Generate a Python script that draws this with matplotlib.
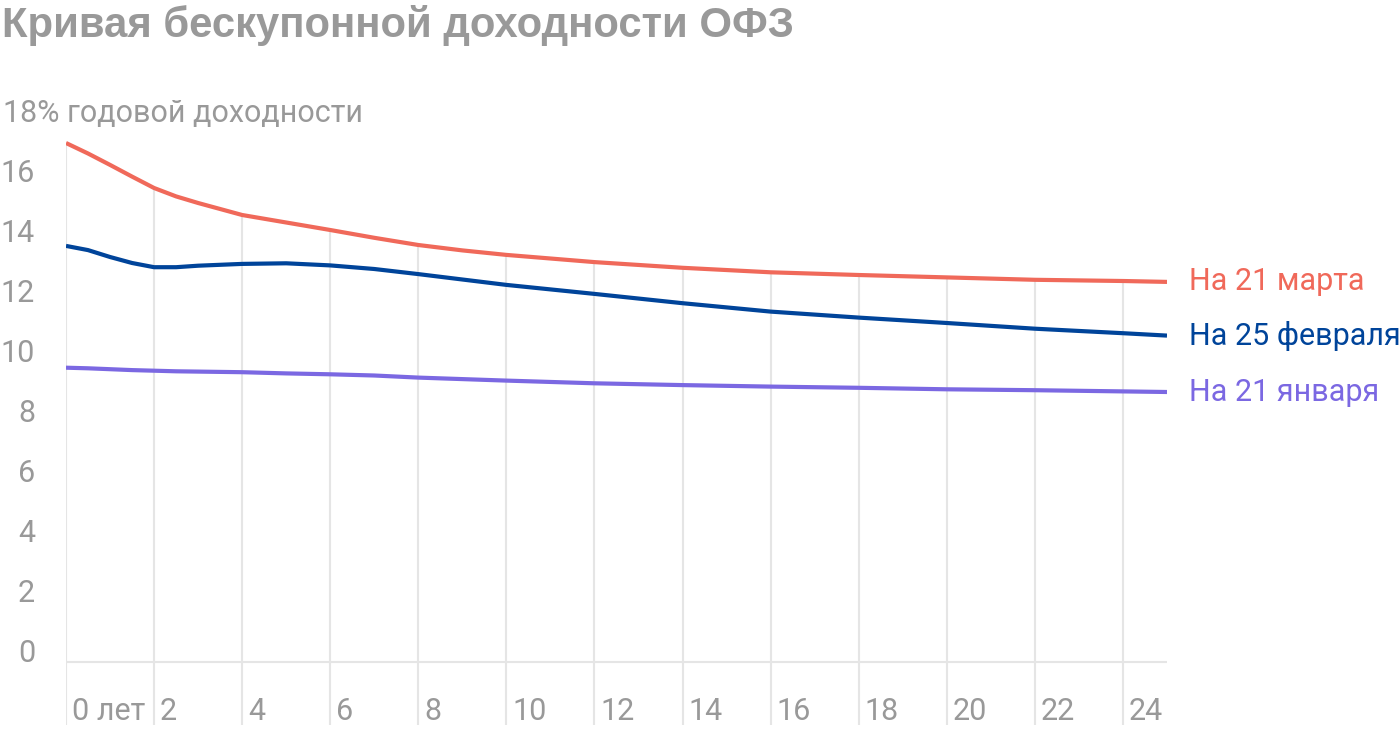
import matplotlib.pyplot as plt
import numpy as np

# data (years to maturity, % yield)
years = [0, 0.5, 1, 1.5, 2, 2.5, 3, 4, 5, 6, 7, 8, 9, 10, 12, 14, 16, 18, 20, 22, 24, 25]
mar21 = [17.3, 16.95, 16.57, 16.18, 15.8, 15.52, 15.3, 14.9, 14.65, 14.4, 14.14, 13.9,
         13.72, 13.57, 13.33, 13.14, 12.99, 12.9, 12.82, 12.74, 12.7, 12.67]
feb25 = [13.87, 13.73, 13.5, 13.3, 13.16, 13.16, 13.21, 13.27, 13.29, 13.22, 13.1, 12.93,
         12.75, 12.57, 12.27, 11.96, 11.68, 11.48, 11.3, 11.11, 10.96, 10.88]
jan21 = [9.81, 9.79, 9.76, 9.73, 9.71, 9.69, 9.68, 9.66, 9.62, 9.59, 9.55, 9.48,
         9.43, 9.38, 9.29, 9.23, 9.18, 9.14, 9.09, 9.06, 9.02, 9.0]

series_names = ["На 21 марта", "На 25 февраля", "На 21 января"]
series_colors = ["#f0695a", "#00449a", "#7b68e2"]

x_ticks = list(range(0, 25, 2))
x_labels = ["0 лет"] + [str(t) for t in x_ticks[1:]]
y_ticks = list(range(0, 17, 2))

GRAY = "#999999"
GRID = "#e5e5e5"
plt.rcParams["font.family"] = ["Roboto", "DejaVu Sans"]

W, H = 1400, 732
fig = plt.figure(figsize=(W / 100, H / 100), dpi=100)
# axes: x 0..25 -> px 66..1167, y -2.1..18 -> px 725..122
ax = fig.add_axes([66 / W, (H - 725) / H, (1167 - 66) / W, (725 - 122) / H])
ax.set_xlim(0, 25)
ax.set_ylim(-2.1, 18)
ax.axis("off")

# vertical grid, stopping at the top curve
tops = np.interp(x_ticks, years, mar21)
ax.vlines(x_ticks, -2.1, tops, color=GRID, lw=1.5, zorder=1)
ax.plot([0, 25], [0, 0], color=GRID, lw=1.5, zorder=1)

for vals, name, col in zip([mar21, feb25, jan21], series_names, series_colors):
    ax.plot(years, vals, color=col, lw=3, solid_capstyle="butt", zorder=3)
    ax.annotate(name, (years[-1], vals[-1]), xytext=(22, 0), textcoords="offset pixels",
                color=col, fontsize=22, va="center", ha="left", annotation_clip=False)

# y labels, baseline sitting on the value
ytr = ax.get_yaxis_transform()
for v in y_ticks:
    ax.text(-31 / 1101, v, str(v), transform=ytr, ha="right", va="baseline",
            color=GRAY, fontsize=22)
ax.text(-63 / 1101, 18, "18% годовой доходности", transform=ytr, ha="left",
        va="baseline", color=GRAY, fontsize=22)

for t, lab in zip(x_ticks, x_labels):
    ax.annotate(lab, (t, -1.93), xytext=(6, 0), textcoords="offset pixels",
                ha="left", va="baseline", color=GRAY, fontsize=22)

fig.text(2 / W, 1 - 37 / H, "Кривая бескупонной доходности ОФЗ",
         family=["Liberation Sans", "DejaVu Sans"], weight="bold",
         fontsize=30.2, color=GRAY, ha="left", va="baseline")

fig.savefig("out.png", dpi=100)
